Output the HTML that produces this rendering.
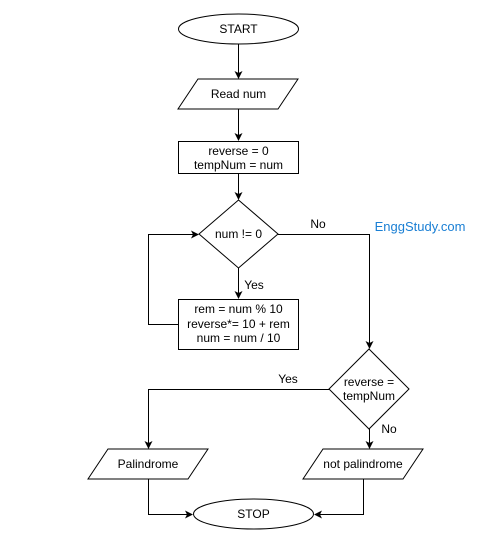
<!DOCTYPE html>
<html><head><style>body{margin:0;background:#fff}</style></head><body>
<svg width="485" height="554" xmlns="http://www.w3.org/2000/svg" font-family="Liberation Sans, Arial, sans-serif" font-size="12">
<defs><marker id="a" markerWidth="8" markerHeight="8" refX="7" refY="4" orient="auto" markerUnits="userSpaceOnUse"><path d="M0,0 L8,4 L0,8 L2,4 z" fill="#000"/></marker></defs>
<g fill="#fff" stroke="#000" stroke-width="1">
<ellipse cx="238.5" cy="29" rx="60" ry="15"/>
<polygon points="198,79 298,79 278,109 178,109"/>
<rect x="178.5" y="141.5" width="120" height="32"/>
<polygon points="238.5,200 278,234 238.5,268 199,234"/>
<rect x="178.5" y="299.5" width="120" height="50"/>
<polygon points="369,349 409,389 369,429 329,389"/>
<polygon points="108,449 208,449 188,479 88,479"/>
<polygon points="323,449 423,449 403,479 303,479"/>
<ellipse cx="253.5" cy="514" rx="60" ry="15"/>
</g>
<g fill="none" stroke="#000" stroke-width="1" marker-end="url(#a)">
<path d="M238.5,44 V78"/>
<path d="M238.5,109 V140"/>
<path d="M238.5,174 V199"/>
<path d="M238.5,268 V298"/>
<path d="M178,324.5 H148.5 V234.5 H198"/>
<path d="M278,234.5 H369.5 V348"/>
<path d="M329,389.5 H148.5 V448"/>
<path d="M369.5,429 V448"/>
<path d="M148.5,479 V514.5 H192"/>
<path d="M363.5,479 V514.5 H315"/>
</g>
<g fill="#000" text-anchor="middle">
<text x="238.5" y="33">START</text>
<text x="238.5" y="98">Read num</text>
<text x="238.5" y="155">reverse = 0</text>
<text x="238.5" y="169">tempNum = num</text>
<text x="238.5" y="238">num != 0</text>
<text x="238.5" y="313">rem = num % 10</text>
<text x="238.5" y="328">reverse*= 10 + rem</text>
<text x="238.5" y="342">num = num / 10</text>
<text x="369" y="386">reverse =</text>
<text x="369" y="400">tempNum</text>
<text x="148" y="468">Palindrome</text>
<text x="363" y="468">not palindrome</text>
<text x="253.5" y="518">STOP</text>
<text x="318" y="228">No</text>
<text x="254" y="289">Yes</text>
<text x="288" y="383">Yes</text>
<text x="389" y="433">No</text>
</g>
<text x="420" y="231" text-anchor="middle" fill="#1a7fd4" font-size="13">EnggStudy.com</text>
</svg>
</body></html>
